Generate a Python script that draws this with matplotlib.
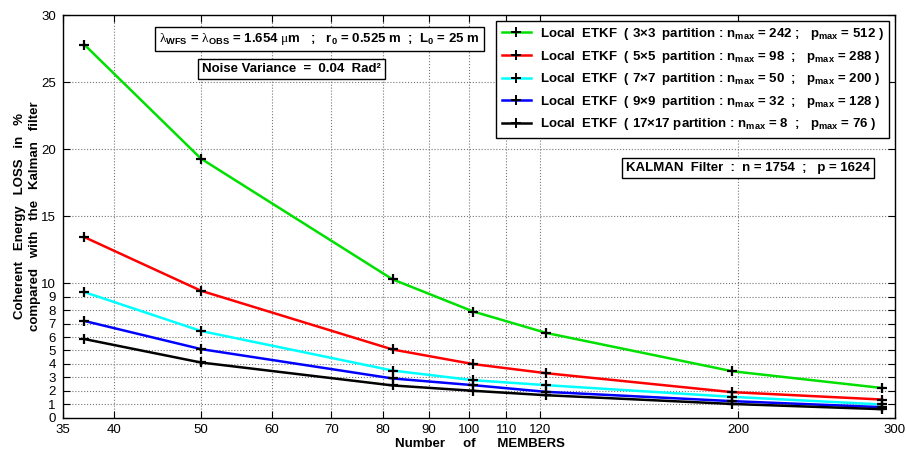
import matplotlib
matplotlib.use("Agg")
import matplotlib.pyplot as plt
from matplotlib.lines import Line2D

plt.rcParams['font.family'] = ['Liberation Sans', 'DejaVu Sans']
plt.rcParams['mathtext.fontset'] = 'custom'
plt.rcParams['mathtext.rm'] = 'Liberation Sans:bold'
plt.rcParams['mathtext.bf'] = 'Liberation Sans:bold'
plt.rcParams['mathtext.it'] = 'Liberation Sans:bold'
plt.rcParams['mathtext.sf'] = 'Liberation Serif'
plt.rcParams['mathtext.default'] = 'rm'

# ---- data ----
members = [37, 50, 82, 101, 122, 197, 290]
loss_3x3 = [27.8, 19.3, 10.3, 7.9, 6.3, 3.45, 2.2]
loss_5x5 = [13.45, 9.45, 5.07, 3.98, 3.3, 1.89, 1.34]
loss_7x7 = [9.35, 6.45, 3.5, 2.78, 2.41, 1.54, 0.97]
loss_9x9 = [7.2, 5.1, 2.91, 2.41, 1.91, 1.22, 0.77]
loss_17x17 = [5.85, 4.1, 2.39, 1.99, 1.66, 1.01, 0.62]

series = [loss_3x3, loss_5x5, loss_7x7, loss_9x9, loss_17x17]
colors = ['#00e000', '#ff0000', '#00ffff', '#0000ff', '#000000']
labels = [
    r'Local  ETKF  ( 3$\times$3  partition : n$_{max}$ = 242 ;   p$_{max}$ = 512 )',
    r'Local  ETKF  ( 5$\times$5  partition : n$_{max}$ = 98  ;   p$_{max}$ = 288 )',
    r'Local  ETKF  ( 7$\times$7  partition : n$_{max}$ = 50  ;   p$_{max}$ = 200 )',
    r'Local  ETKF  ( 9$\times$9  partition : n$_{max}$ = 32  ;   p$_{max}$ = 128 )',
    r'Local  ETKF  ( 17$\times$17 partition : n$_{max}$ = 8  ;   p$_{max}$ = 76 )',
]

xticks = [35, 40, 50, 60, 70, 80, 90, 100, 110, 120, 200, 300]
yticks = [0, 1, 2, 3, 4, 5, 6, 7, 8, 9, 10, 15, 20, 25, 30]

W, H = 906, 451
fig = plt.figure(figsize=(W / 100, H / 100), dpi=100)
ax = fig.add_axes([62.7 / W, 1 - 417.5 / H, (895 - 62.7) / W, (417.5 - 15) / H])

for ys, c in zip(series, colors):
    ax.plot(members, ys, color=c, lw=1.8, zorder=3)
    ax.plot(members, ys, ls='none', marker='+', ms=7.5, mew=1.6, color='black', zorder=4)

ax.set_xscale('log')
ax.set_xlim(35, 300)
ax.set_ylim(0, 30)
ax.set_xticks(xticks)
ax.set_xticklabels([str(t) for t in xticks])
ax.xaxis.set_minor_locator(matplotlib.ticker.NullLocator())
ax.set_yticks(yticks)
ax.set_yticklabels([str(t) for t in yticks])
ax.tick_params(axis='both', which='both', direction='in', top=True, right=True,
               length=5, width=0.8, labelsize=9.5)
ax.tick_params(axis='x', pad=5)
ax.tick_params(axis='y', pad=5)
ax.grid(True, ls=':', color='#777777', lw=0.8)
for sp in ax.spines.values():
    sp.set_linewidth(1.0)
    sp.set_color('black')

fig.text(480 / W, 1 - 444 / H, 'Number     of      MEMBERS', ha='center', va='center',
         fontsize=9.5, fontweight='bold')
fig.text(20 / W, 1 - 216 / H, 'Coherent   Energy   LOSS   in   %', rotation=90,
         ha='center', va='center', fontsize=9.5, fontweight='bold')
fig.text(35 / W, 1 - 216 / H, 'compared   with   the   Kalman   filter', rotation=90,
         ha='center', va='center', fontsize=9.5, fontweight='bold')

box = dict(boxstyle='square,pad=0.3', fc='white', ec='black', lw=1.0)
fig.text(319.5 / W, 1 - 38.7 / H,
         r'$\mathsf{\lambda}_{WFS}$ = $\mathsf{\lambda}_{OBS}$ = 1.654 $\mathsf{\mu}$m   ;   r$_0$ = 0.525 m  ;  L$_0$ = 25 m',
         ha='center', va='center', fontsize=9.5, fontweight='bold', bbox=box, zorder=6)
fig.text(291.7 / W, 1 - 69 / H, 'Noise Variance  =  0.04  Rad²',
         ha='center', va='center', fontsize=9.5, fontweight='bold', bbox=box, zorder=6)
fig.text(748 / W, 1 - 168 / H, 'KALMAN  Filter  :  n = 1754  ;   p = 1624',
         ha='center', va='center', fontsize=9.5, fontweight='bold', bbox=box, zorder=6)

handles = [Line2D([], [], color=c, lw=1.8, marker='+', ms=7, mew=1.4, mec='black')
           for c in colors]
leg = ax.legend(handles, labels, loc='upper right',
                bbox_to_anchor=(889 / W, 1 - 20.7 / H), bbox_transform=fig.transFigure,
                prop={'weight': 'bold', 'size': 9.5}, fancybox=False, framealpha=1,
                edgecolor='black', handlelength=2.2, handletextpad=0.7,
                labelspacing=0.5, borderpad=0.4, borderaxespad=0, numpoints=1)
leg.get_frame().set_linewidth(1.0)
leg.set_zorder(7)

fig.savefig('out.png', dpi=100)
